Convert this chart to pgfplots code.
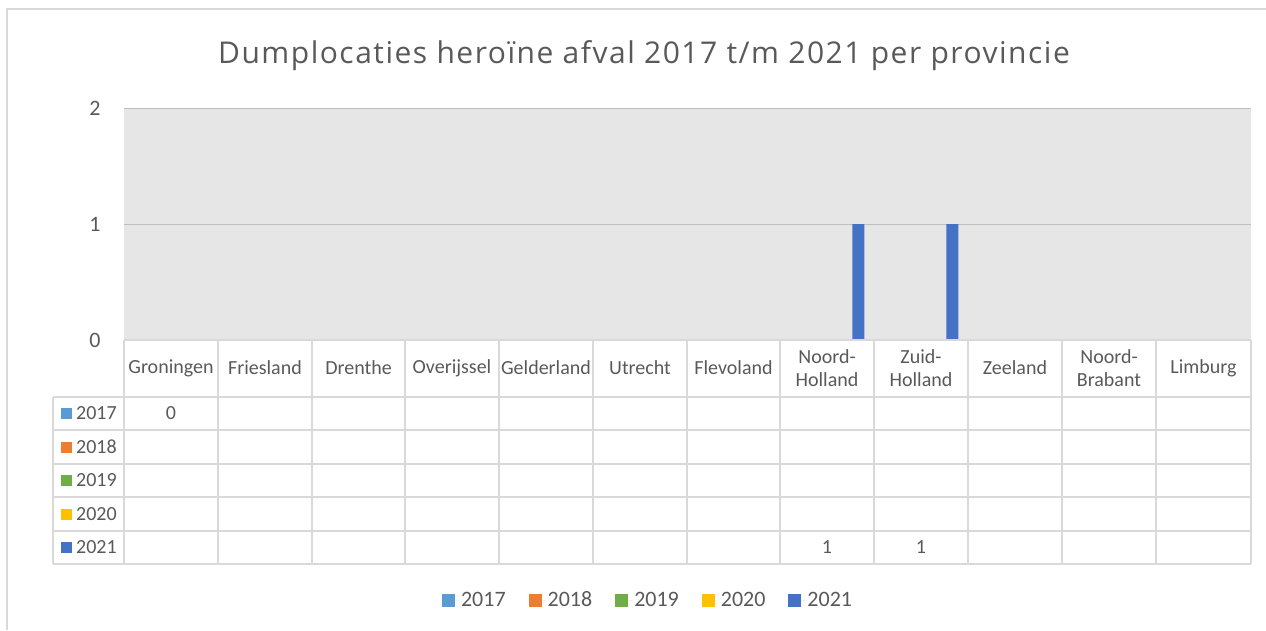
\documentclass[border=0pt]{standalone}
\usepackage{fontspec}
\setmainfont{Carlito}
\newfontfamily\titlefont[LetterSpace=5]{Open Sans}
\usepackage{pgfplots}
\pgfplotsset{compat=1.18}
\definecolor{txt}{HTML}{595959}
\definecolor{grid}{HTML}{D9D9D9}
\definecolor{bg}{HTML}{E7E6E6}
\definecolor{cA}{HTML}{5B9BD5}
\definecolor{cB}{HTML}{ED7D31}
\definecolor{cC}{HTML}{70AD47}
\definecolor{cD}{HTML}{FFC000}
\definecolor{cE}{HTML}{4472C4}
\begin{document}
\begin{tikzpicture}
\begin{scope}[x=1pt,y=1pt]
\path[use as bounding box] (0,0) rectangle (1266,-630);
% outer border (top and left only visible)
\draw[grid, line width=1.5pt] (7,-630) -- (7,-9) -- (1266,-9);
% title
\node[anchor=base, inner sep=0pt, text=txt, font=\titlefont\fontsize{30}{34}\selectfont] at (644,-63) {Dumplocaties heroïne afval 2017 t/m 2021 per provincie};
\end{scope}
\begin{axis}[
  at={(170.96pt,-340pt)}, anchor=origin,
  scale only axis, width=1127pt, height=232pt,
  xmin=-0.5, xmax=11.5, ymin=0, ymax=2,
  axis background/.style={fill=bg},
  axis line style={draw=none},
  ytick={0,1,2}, xtick=\empty,
  ymajorgrids, grid style={grid, line width=1pt},
  major tick length=0pt,
  yticklabel style={text=txt, font=\fontsize{22}{24}\selectfont, xshift=-20pt},
  /pgf/number format/assume math mode=true,
  clip=false,
  legend style={at={(0.465,-1.121)}, anchor=center, draw=none, fill=none,
    font=\fontsize{22}{24}\selectfont, text=txt, legend columns=5,
    /tikz/every even column/.append style={column sep=21pt}},
  legend image code/.code={\fill[#1] (0pt,-6.5pt) rectangle (13pt,6.5pt); \path (0pt,0pt) -- (17pt,0pt);},
]
\addlegendimage{fill=cA, draw=none}\addlegendentry{2017}
\addlegendimage{fill=cB, draw=none}\addlegendentry{2018}
\addlegendimage{fill=cC, draw=none}\addlegendentry{2019}
\addlegendimage{fill=cD, draw=none}\addlegendentry{2020}
\addlegendimage{fill=cE, draw=none}\addlegendentry{2021}
% 2017 (Groningen = 0)
\addplot[ybar, bar width=12pt, bar shift=-30pt, fill=cA, draw=none, forget plot] coordinates {(0,0)};
% 2021
\addplot[ybar, bar width=12pt, bar shift=30pt, fill=cE, draw=none, forget plot] coordinates {(7,1) (8,1)};
\end{axis}
\begin{scope}[x=1pt,y=1pt]
% data table grid
\begin{scope}[grid, line width=1.5pt]
\draw (124,-340) -- (1251,-340);
\foreach \y in {397,430,464,497,531,564} \draw (53,-\y) -- (1251,-\y);
\draw (53,-397) -- (53,-564);
\foreach \x in {124,218,312,405,499,593,687,780,874,968,1062,1156,1251} \draw (\x,-340) -- (\x,-564);
\end{scope}
% header labels
\begin{scope}[text=txt, font=\fontsize{20}{23}\selectfont]
\node[align=center] at (171,-368) {Groningen};
\node[align=center] at (265,-368) {Friesland};
\node[align=center] at (358.5,-368) {Drenthe};
\node[align=center] at (452,-368) {Overijssel};
\node[align=center] at (546,-368) {Gelderland};
\node[align=center] at (640,-368) {Utrecht};
\node[align=center] at (733.5,-368) {Flevoland};
\node[align=center] at (827,-368) {Noord-\\Holland};
\node[align=center] at (921,-368) {Zuid-\\Holland};
\node[align=center] at (1015,-368) {Zeeland};
\node[align=center] at (1109,-368) {Noord-\\Brabant};
\node[align=center] at (1203.5,-368) {Limburg};
% row labels
\foreach \yy/\c/\lab in {413.5/cA/2017, 447/cB/2018, 480.5/cC/2019, 514/cD/2020, 547.5/cE/2021}{
  \fill[\c] (61,-\yy-5.5) rectangle (72,-\yy+5.5);
  \node[anchor=west, inner sep=0pt] at (76,-\yy) {\lab};
}
% values
\node at (171,-413.5) {0};
\node at (827,-547.5) {1};
\node at (921,-547.5) {1};
\end{scope}
\end{scope}
\end{tikzpicture}
\end{document}
